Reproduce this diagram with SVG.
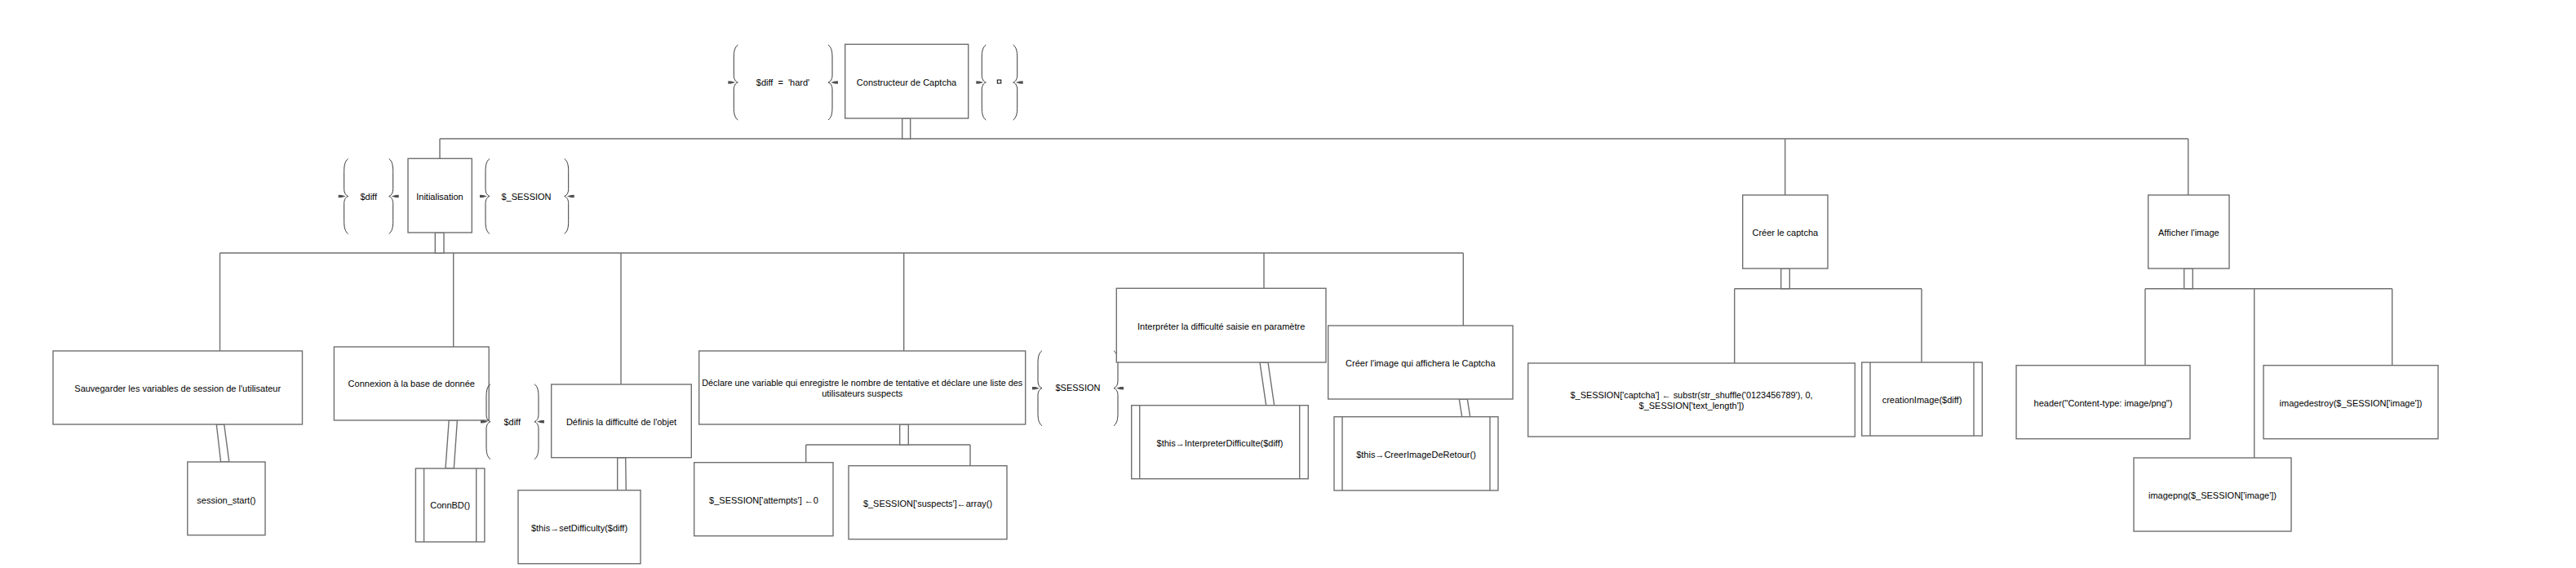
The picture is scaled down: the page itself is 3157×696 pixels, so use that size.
<svg xmlns="http://www.w3.org/2000/svg" xmlns:xlink="http://www.w3.org/1999/xlink" width="3157" height="696" viewBox="0 0 3157 696">
<style>
.b{fill:#fff;stroke:#707070;stroke-width:1.4}
.l{fill:none;stroke:#707070;stroke-width:1.4}
.t{font-family:"Liberation Sans",Arial,sans-serif;font-size:11px;fill:#000;text-anchor:middle;white-space:pre}
.br{fill:none;stroke:#3a3a3a;stroke-width:1}
.tk{fill:#505050;stroke:none}
</style>
<defs>
<g id="lb">
<path class="br" d="M5,-46 C1,-43 0,-38 0,-30 L0,-9 C0,-4 2,-1 5,0 C2,1 0,4 0,9 L0,30 C0,38 1,43 5,46"/>
<polygon class="tk" points="-7,-1.8 -3,-1.6 2,0 -3,1.6 -7,1.8"/>
</g>
</defs>
<rect width="3157" height="696" fill="#fff"/>

<g id="connectors">
<path class="l" d="M539,170 H2681.7 M539,170 V194.3 M2187.7,170 V239 M2681.7,170 V239"/>
<path class="l" d="M269.5,310 H1793.3 M269.5,310 V430 M555.7,310 V425 M761,310 V471 M1107.7,310 V430 M1549,310 V353.3 M1793.3,310 V399"/>
<path class="l" d="M987.7,545 H1189 M987.7,545 V566.7 M1189,545 V570.7"/>
<path class="l" d="M2125.7,353.7 H2355 M2125.7,353.7 V445 M2355,353.7 V444"/>
<path class="l" d="M2629,353.7 H2931.7 M2629,353.7 V447.7 M2762.7,353.7 V561 M2931.7,353.7 V447.7"/>
<rect class="b" x="1105.7" y="145" width="10" height="25"/>
<rect class="b" x="533.3" y="285" width="10.7" height="25"/>
<rect class="b" x="1102.7" y="520" width="10.6" height="25"/>
<rect class="b" x="2182.7" y="329" width="10.6" height="24.7"/>
<rect class="b" x="2676.7" y="329" width="10.6" height="24.7"/>
<polygon class="b" points="265.3,520 274.7,520 280.8,566 270.6,566"/>
<polygon class="b" points="550.2,515 560.4,515 556.3,574 546,574"/>
<polygon class="b" points="756.7,560.7 766.7,560.7 767.3,600.7 756.7,600.7"/>
<polygon class="b" points="1544,444 1554,444 1561.7,496.7 1551.7,496.7"/>
<polygon class="b" points="1788.3,489 1798.3,489 1801.7,510.7 1791.7,510.7"/>
</g>

<g id="param-hard">
<use xlink:href="#lb" transform="translate(899.3,101)"/>
<use xlink:href="#lb" transform="translate(1020,101) scale(-1,1)"/>
<text class="t" x="959.5" y="104.7">$diff  =  'hard'</text>
</g>
<g id="n-constructeur">
<rect class="b" x="1035.7" y="54.3" width="151" height="90.7"/>
<text class="t" x="1111" y="105">Constructeur de Captcha</text>
</g>
<g id="param-empty">
<use xlink:href="#lb" transform="translate(1203.3,101)"/>
<use xlink:href="#lb" transform="translate(1246.7,101) scale(-1,1)"/>
<rect x="1222.3" y="98" width="4.5" height="4" fill="none" stroke="#000" stroke-width="1"/>
</g>

<g id="param-init-diff">
<use xlink:href="#lb" transform="translate(421.7,240.5)"/>
<use xlink:href="#lb" transform="translate(481.7,240.5) scale(-1,1)"/>
<text class="t" x="451.7" y="245">$diff</text>
</g>
<g id="n-init">
<rect class="b" x="500" y="194.3" width="78.3" height="90.7"/>
<text class="t" x="539" y="245">Initialisation</text>
</g>
<g id="param-init-session">
<use xlink:href="#lb" transform="translate(595,240.5)"/>
<use xlink:href="#lb" transform="translate(696.7,240.5) scale(-1,1)"/>
<text class="t" x="645" y="245">$_SESSION</text>
</g>

<g id="n-sauvegarder">
<rect class="b" x="65" y="430" width="305.5" height="90"/>
<text class="t" x="217.7" y="480">Sauvegarder les variables de session de l'utilisateur</text>
</g>
<g id="n-session-start">
<rect class="b" x="229.8" y="566" width="95.2" height="89.7"/>
<text class="t" x="277.4" y="616.7">session_start()</text>
</g>
<g id="n-connexion">
<rect class="b" x="409.4" y="425" width="189.8" height="90"/>
<text class="t" x="504.3" y="474">Connexion à la base de donnée</text>
</g>
<g id="n-connbd">
<rect class="b" x="509.4" y="574" width="84.5" height="90"/>
<path class="l" d="M519.6,574 V664 M583.7,574 V664"/>
<text class="t" x="551.7" y="623">ConnBD()</text>
</g>
<g id="param-definis-diff">
<use xlink:href="#lb" transform="translate(596,516.7)"/>
<use xlink:href="#lb" transform="translate(660,516.7) scale(-1,1)"/>
<text class="t" x="627.7" y="520.5">$diff</text>
</g>
<g id="n-definis">
<rect class="b" x="675.7" y="471" width="171.6" height="89.7"/>
<text class="t" x="761.5" y="521">Définis la difficulté de l'objet</text>
</g>
<g id="n-setdifficulty">
<rect class="b" x="635" y="600.7" width="150" height="90"/>
<text class="t" x="710" y="651.3">$this→setDifficulty($diff)</text>
</g>
<g id="n-declare">
<rect class="b" x="856.7" y="430" width="400" height="90"/>
<text class="t" x="1056.7" y="473.3" textLength="393" lengthAdjust="spacingAndGlyphs">Déclare une variable qui enregistre le nombre de tentative et déclare une liste des</text>
<text class="t" x="1056.7" y="486.3">utilisateurs suspects</text>
</g>
<g id="n-attempts">
<rect class="b" x="850.7" y="566.7" width="170.3" height="90"/>
<text class="t" x="936" y="617.3">$_SESSION['attempts'] ←0</text>
</g>
<g id="n-suspects">
<rect class="b" x="1040" y="570.7" width="194" height="90"/>
<text class="t" x="1137" y="620.7">$_SESSION['suspects']←array()</text>
</g>
<g id="param-session">
<use xlink:href="#lb" transform="translate(1272,475.7)"/>
<use xlink:href="#lb" transform="translate(1370,475.7) scale(-1,1)"/>
<text class="t" x="1321" y="479.3">$SESSION</text>
</g>
<g id="n-interpreter">
<rect class="b" x="1368.3" y="353.3" width="256.7" height="90.7"/>
<text class="t" x="1496.7" y="404">Interpréter la difficulté saisie en paramètre</text>
</g>
<g id="n-interpreterdifficulte">
<rect class="b" x="1386.7" y="496.7" width="216.6" height="90"/>
<path class="l" d="M1396.7,496.7 V586.7 M1592.7,496.7 V586.7"/>
<text class="t" x="1495" y="547.3">$this→InterpreterDifficulte($diff)</text>
</g>
<g id="n-creer-image">
<rect class="b" x="1627.7" y="399" width="226.3" height="90"/>
<text class="t" x="1740.8" y="449">Créer l'image qui affichera le Captcha</text>
</g>
<g id="n-creerimagederetour">
<rect class="b" x="1635" y="510.7" width="201" height="90.3"/>
<path class="l" d="M1645,510.7 V601 M1826,510.7 V601"/>
<text class="t" x="1735.5" y="561.3">$this→CreerImageDeRetour()</text>
</g>

<g id="n-creer-captcha">
<rect class="b" x="2135.7" y="239" width="104.3" height="90"/>
<text class="t" x="2187.8" y="289">Créer le captcha</text>
</g>
<g id="n-captcha">
<rect class="b" x="1872.7" y="445" width="400.6" height="90"/>
<text class="t" x="2073" y="488.3" textLength="297" lengthAdjust="spacingAndGlyphs">$_SESSION['captcha'] ← substr(str_shuffle('0123456789'), 0,</text>
<text class="t" x="2073" y="501.3">$_SESSION['text_length'])</text>
</g>
<g id="n-creationimage">
<rect class="b" x="2281.7" y="444" width="147.6" height="90"/>
<path class="l" d="M2292,444 V534 M2419,444 V534"/>
<text class="t" x="2355.5" y="494">creationImage($diff)</text>
</g>

<g id="n-afficher">
<rect class="b" x="2632.7" y="239" width="99.3" height="90"/>
<text class="t" x="2682.3" y="289">Afficher l'image</text>
</g>
<g id="n-header">
<rect class="b" x="2471" y="447.7" width="213" height="90"/>
<text class="t" x="2577.5" y="498">header("Content-type: image/png")</text>
</g>
<g id="n-imagepng">
<rect class="b" x="2615" y="561" width="193" height="90"/>
<text class="t" x="2711.5" y="610.7">imagepng($_SESSION['image'])</text>
</g>
<g id="n-imagedestroy">
<rect class="b" x="2774" y="447.7" width="214" height="90"/>
<text class="t" x="2881" y="498">imagedestroy($_SESSION['image'])</text>
</g>
</svg>
